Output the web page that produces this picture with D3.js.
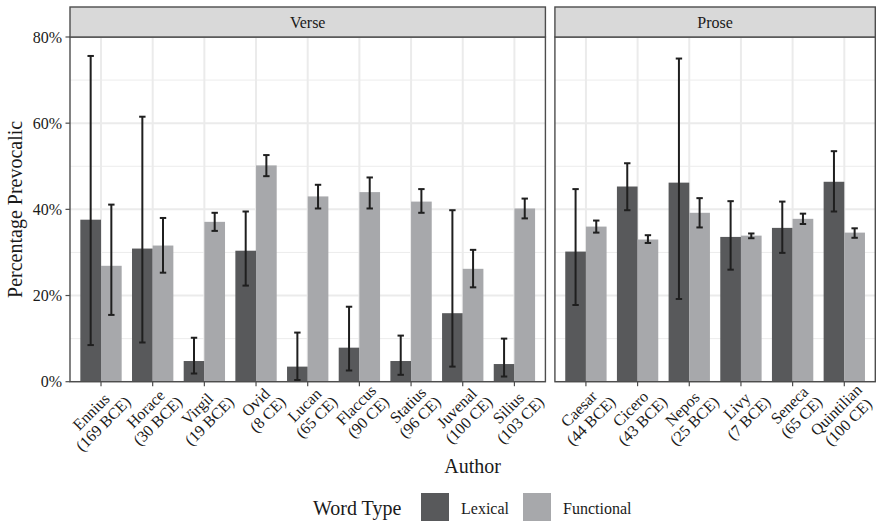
<!DOCTYPE html>
<html>
<head>
<meta charset="utf-8">
<script src="https://cdn.jsdelivr.net/npm/d3@7"></script>
<style>
  body { margin: 0; background: #fff; }
</style>
</head>
<body>
<div id="chart"></div>
<script>
// ---- data ----
var panels = ["Verse", "Prose"];

var verseAuthors = ["Ennius", "Horace", "Virgil", "Ovid", "Lucan", "Flaccus", "Statius", "Juvenal", "Silius"];
var verseDates = ["(169 BCE)", "(30 BCE)", "(19 BCE)", "(8 CE)", "(65 CE)", "(90 CE)", "(96 CE)", "(100 CE)", "(103 CE)"];
var proseAuthors = ["Caesar", "Cicero", "Nepos", "Livy", "Seneca", "Quintilian"];
var proseDates = ["(44 BCE)", "(43 BCE)", "(25 BCE)", "(7 BCE)", "(65 CE)", "(100 CE)"];

var wordTypes = ["Lexical", "Functional"];

// verse
var verseLexical = [0.376, 0.309, 0.048, 0.304, 0.035, 0.079, 0.048, 0.159, 0.041];
var verseLexicalLo = [0.085, 0.091, 0.019, 0.223, 0.004, 0.026, 0.016, 0.035, 0.012];
var verseLexicalHi = [0.756, 0.615, 0.102, 0.395, 0.114, 0.174, 0.107, 0.398, 0.100];
var verseFunctional = [0.269, 0.316, 0.371, 0.502, 0.430, 0.440, 0.418, 0.262, 0.402];
var verseFunctionalLo = [0.155, 0.253, 0.350, 0.477, 0.402, 0.402, 0.392, 0.219, 0.379];
var verseFunctionalHi = [0.411, 0.380, 0.392, 0.526, 0.457, 0.474, 0.447, 0.306, 0.425];

// prose
var proseLexical = [0.302, 0.453, 0.462, 0.336, 0.357, 0.464];
var proseLexicalLo = [0.178, 0.398, 0.192, 0.260, 0.299, 0.395];
var proseLexicalHi = [0.447, 0.507, 0.750, 0.419, 0.418, 0.535];
var proseFunctional = [0.360, 0.330, 0.392, 0.339, 0.378, 0.346];
var proseFunctionalLo = [0.346, 0.322, 0.358, 0.333, 0.366, 0.334];
var proseFunctionalHi = [0.374, 0.340, 0.426, 0.344, 0.390, 0.356];

var yTicks = [0, 0.2, 0.4, 0.6, 0.8];
var yMinor = [0.1, 0.3, 0.5, 0.7];

// ---- layout ----
var W = 876, H = 521;
var plotLeft = 70, plotRight = 875.3, panelGap = 9.5;
var panelTop = 37, panelBottom = 381.7, stripTop = 7;
var serif = "Liberation Serif";
var fills = d3.scaleOrdinal().domain(wordTypes).range(["#58595b", "#a7a8ab"]);

function rows(authors, dates, lex, lexLo, lexHi, fun, funLo, funHi) {
    var out = [];
    authors.forEach(function(a, i) {
        out.push({ author: a, date: dates[i], type: "Lexical", v: lex[i], lo: lexLo[i], hi: lexHi[i] });
        out.push({ author: a, date: dates[i], type: "Functional", v: fun[i], lo: funLo[i], hi: funHi[i] });
    });
    return out;
}

var panelData = [
    { name: "Verse", authors: verseAuthors, dates: verseDates,
      rows: rows(verseAuthors, verseDates, verseLexical, verseLexicalLo, verseLexicalHi, verseFunctional, verseFunctionalLo, verseFunctionalHi) },
    { name: "Prose", authors: proseAuthors, dates: proseDates,
      rows: rows(proseAuthors, proseDates, proseLexical, proseLexicalLo, proseLexicalHi, proseFunctional, proseFunctionalLo, proseFunctionalHi) }
];

// free x space: width proportional to (n - 1 + 1.2)
var units = panelData.map(function(p) { return p.authors.length - 1 + 1.2; });
var step = (plotRight - plotLeft - panelGap) / d3.sum(units);

var y = d3.scaleLinear().domain([0, 0.8]).range([panelBottom, panelTop]);

var svg = d3.select("#chart").append("svg")
    .attr("width", W)
    .attr("height", H)
    .style("font-family", serif);

function txt(sel) {
    return sel.style("font-family", serif).attr("fill", "#1a1a1a");
}

var x0 = plotLeft;
panelData.forEach(function(p, pi) {
    var pw = units[pi] * step;
    var x = d3.scalePoint().domain(p.authors).range([x0, x0 + pw]).padding(0.6);
    var g = svg.append("g");

    // background + grid
    g.append("rect").attr("x", x0).attr("y", panelTop).attr("width", pw).attr("height", panelBottom - panelTop)
        .attr("fill", "#fff");
    g.selectAll("line.minor").data(yMinor).enter().append("line")
        .attr("x1", x0).attr("x2", x0 + pw)
        .attr("y1", function(d) { return y(d); }).attr("y2", function(d) { return y(d); })
        .attr("stroke", "#ececec").attr("stroke-width", 1);
    g.selectAll("line.major").data(yTicks).enter().append("line")
        .attr("x1", x0).attr("x2", x0 + pw)
        .attr("y1", function(d) { return y(d); }).attr("y2", function(d) { return y(d); })
        .attr("stroke", "#ebebeb").attr("stroke-width", 2);
    g.selectAll("line.vmajor").data(p.authors).enter().append("line")
        .attr("x1", function(d) { return x(d); }).attr("x2", function(d) { return x(d); })
        .attr("y1", panelTop).attr("y2", panelBottom)
        .attr("stroke", "#ebebeb").attr("stroke-width", 2);

    // bars
    var bw = 0.4 * step;
    function cx(d) { return x(d.author) + (d.type === "Lexical" ? -bw / 2 : bw / 2); }
    g.selectAll("rect.bar").data(p.rows).enter().append("rect")
        .attr("x", function(d) { return cx(d) - bw / 2; })
        .attr("y", function(d) { return y(d.v); })
        .attr("width", bw)
        .attr("height", function(d) { return y(0) - y(d.v); })
        .attr("fill", function(d) { return fills(d.type); });

    // error bars
    var cap = 3.2;
    var eb = g.selectAll("g.err").data(p.rows).enter().append("g")
        .attr("stroke", "#1f1f1f").attr("stroke-width", 2);
    eb.append("line")
        .attr("x1", cx).attr("x2", cx)
        .attr("y1", function(d) { return y(d.lo); }).attr("y2", function(d) { return y(d.hi); });
    eb.append("line")
        .attr("x1", function(d) { return cx(d) - cap; }).attr("x2", function(d) { return cx(d) + cap; })
        .attr("y1", function(d) { return y(d.lo); }).attr("y2", function(d) { return y(d.lo); });
    eb.append("line")
        .attr("x1", function(d) { return cx(d) - cap; }).attr("x2", function(d) { return cx(d) + cap; })
        .attr("y1", function(d) { return y(d.hi); }).attr("y2", function(d) { return y(d.hi); });

    // panel border
    g.append("rect").attr("x", x0).attr("y", panelTop).attr("width", pw).attr("height", panelBottom - panelTop)
        .attr("fill", "none").attr("stroke", "#4d4d4d").attr("stroke-width", 1.4);

    // strip
    g.append("rect").attr("x", x0).attr("y", stripTop).attr("width", pw).attr("height", panelTop - stripTop)
        .attr("fill", "#d9d9d9").attr("stroke", "#4d4d4d").attr("stroke-width", 1.4);
    txt(g.append("text")).attr("x", x0 + pw / 2).attr("y", 27.5)
        .attr("text-anchor", "middle").attr("font-size", 16)
        .text(p.name);

    // x axis ticks + labels (two centred lines, block rotated 45deg)
    g.selectAll("line.xt").data(p.authors).enter().append("line")
        .attr("x1", function(d) { return x(d); }).attr("x2", function(d) { return x(d); })
        .attr("y1", panelBottom).attr("y2", panelBottom + 4.5)
        .attr("stroke", "#4d4d4d").attr("stroke-width", 1.2);
    var lab = g.selectAll("g.xl").data(p.authors).enter().append("g")
        .attr("transform", function(d) { return "translate(" + (x(d) + 8.5) + "," + (panelBottom - 1) + ") rotate(-45)"; });
    var l1 = txt(lab.append("text")).attr("font-size", 16).attr("text-anchor", "middle")
        .attr("y", 14.4).text(function(d) { return d; });
    var l2 = txt(lab.append("text")).attr("font-size", 16).attr("text-anchor", "middle")
        .attr("y", 14.4 + 17).text(function(d, i) { return p.dates[i]; });
    lab.each(function(d, i) {
        var n1 = l1.nodes()[i], n2 = l2.nodes()[i];
        var bwid = Math.max(n1.getComputedTextLength(), n2.getComputedTextLength());
        d3.select(n1).attr("x", -bwid / 2);
        d3.select(n2).attr("x", -bwid / 2);
    });

    x0 += pw + panelGap;
});

// y axis
var ya = svg.append("g");
ya.selectAll("line").data(yTicks).enter().append("line")
    .attr("x1", plotLeft - 4.5).attr("x2", plotLeft)
    .attr("y1", function(d) { return y(d); }).attr("y2", function(d) { return y(d); })
    .attr("stroke", "#4d4d4d").attr("stroke-width", 1.2);
txt(ya.selectAll("text").data(yTicks).enter().append("text"))
    .attr("x", plotLeft - 8)
    .attr("y", function(d) { return y(d); })
    .attr("dy", "0.35em")
    .attr("text-anchor", "end")
    .attr("font-size", 16)
    .text(d3.format(".0%"));

// axis titles
txt(svg.append("text"))
    .attr("transform", "translate(22," + ((panelTop + panelBottom) / 2) + ") rotate(-90)")
    .attr("text-anchor", "middle").attr("font-size", 20)
    .text("Percentage Prevocalic");
txt(svg.append("text"))
    .attr("x", (plotLeft + plotRight) / 2).attr("y", 473)
    .attr("text-anchor", "middle").attr("font-size", 20)
    .text("Author");

// legend
var leg = svg.append("g");
txt(leg.append("text")).attr("x", 313).attr("y", 515).attr("font-size", 20).text("Word Type");
var keyX = [421, 523], labX = [461, 563];
wordTypes.forEach(function(t, i) {
    leg.append("rect").attr("x", keyX[i]).attr("y", 493).attr("width", 28).attr("height", 28)
        .attr("fill", fills(t));
    txt(leg.append("text")).attr("x", labX[i]).attr("y", 514).attr("font-size", 16).text(t);
});
</script>
</body>
</html>
